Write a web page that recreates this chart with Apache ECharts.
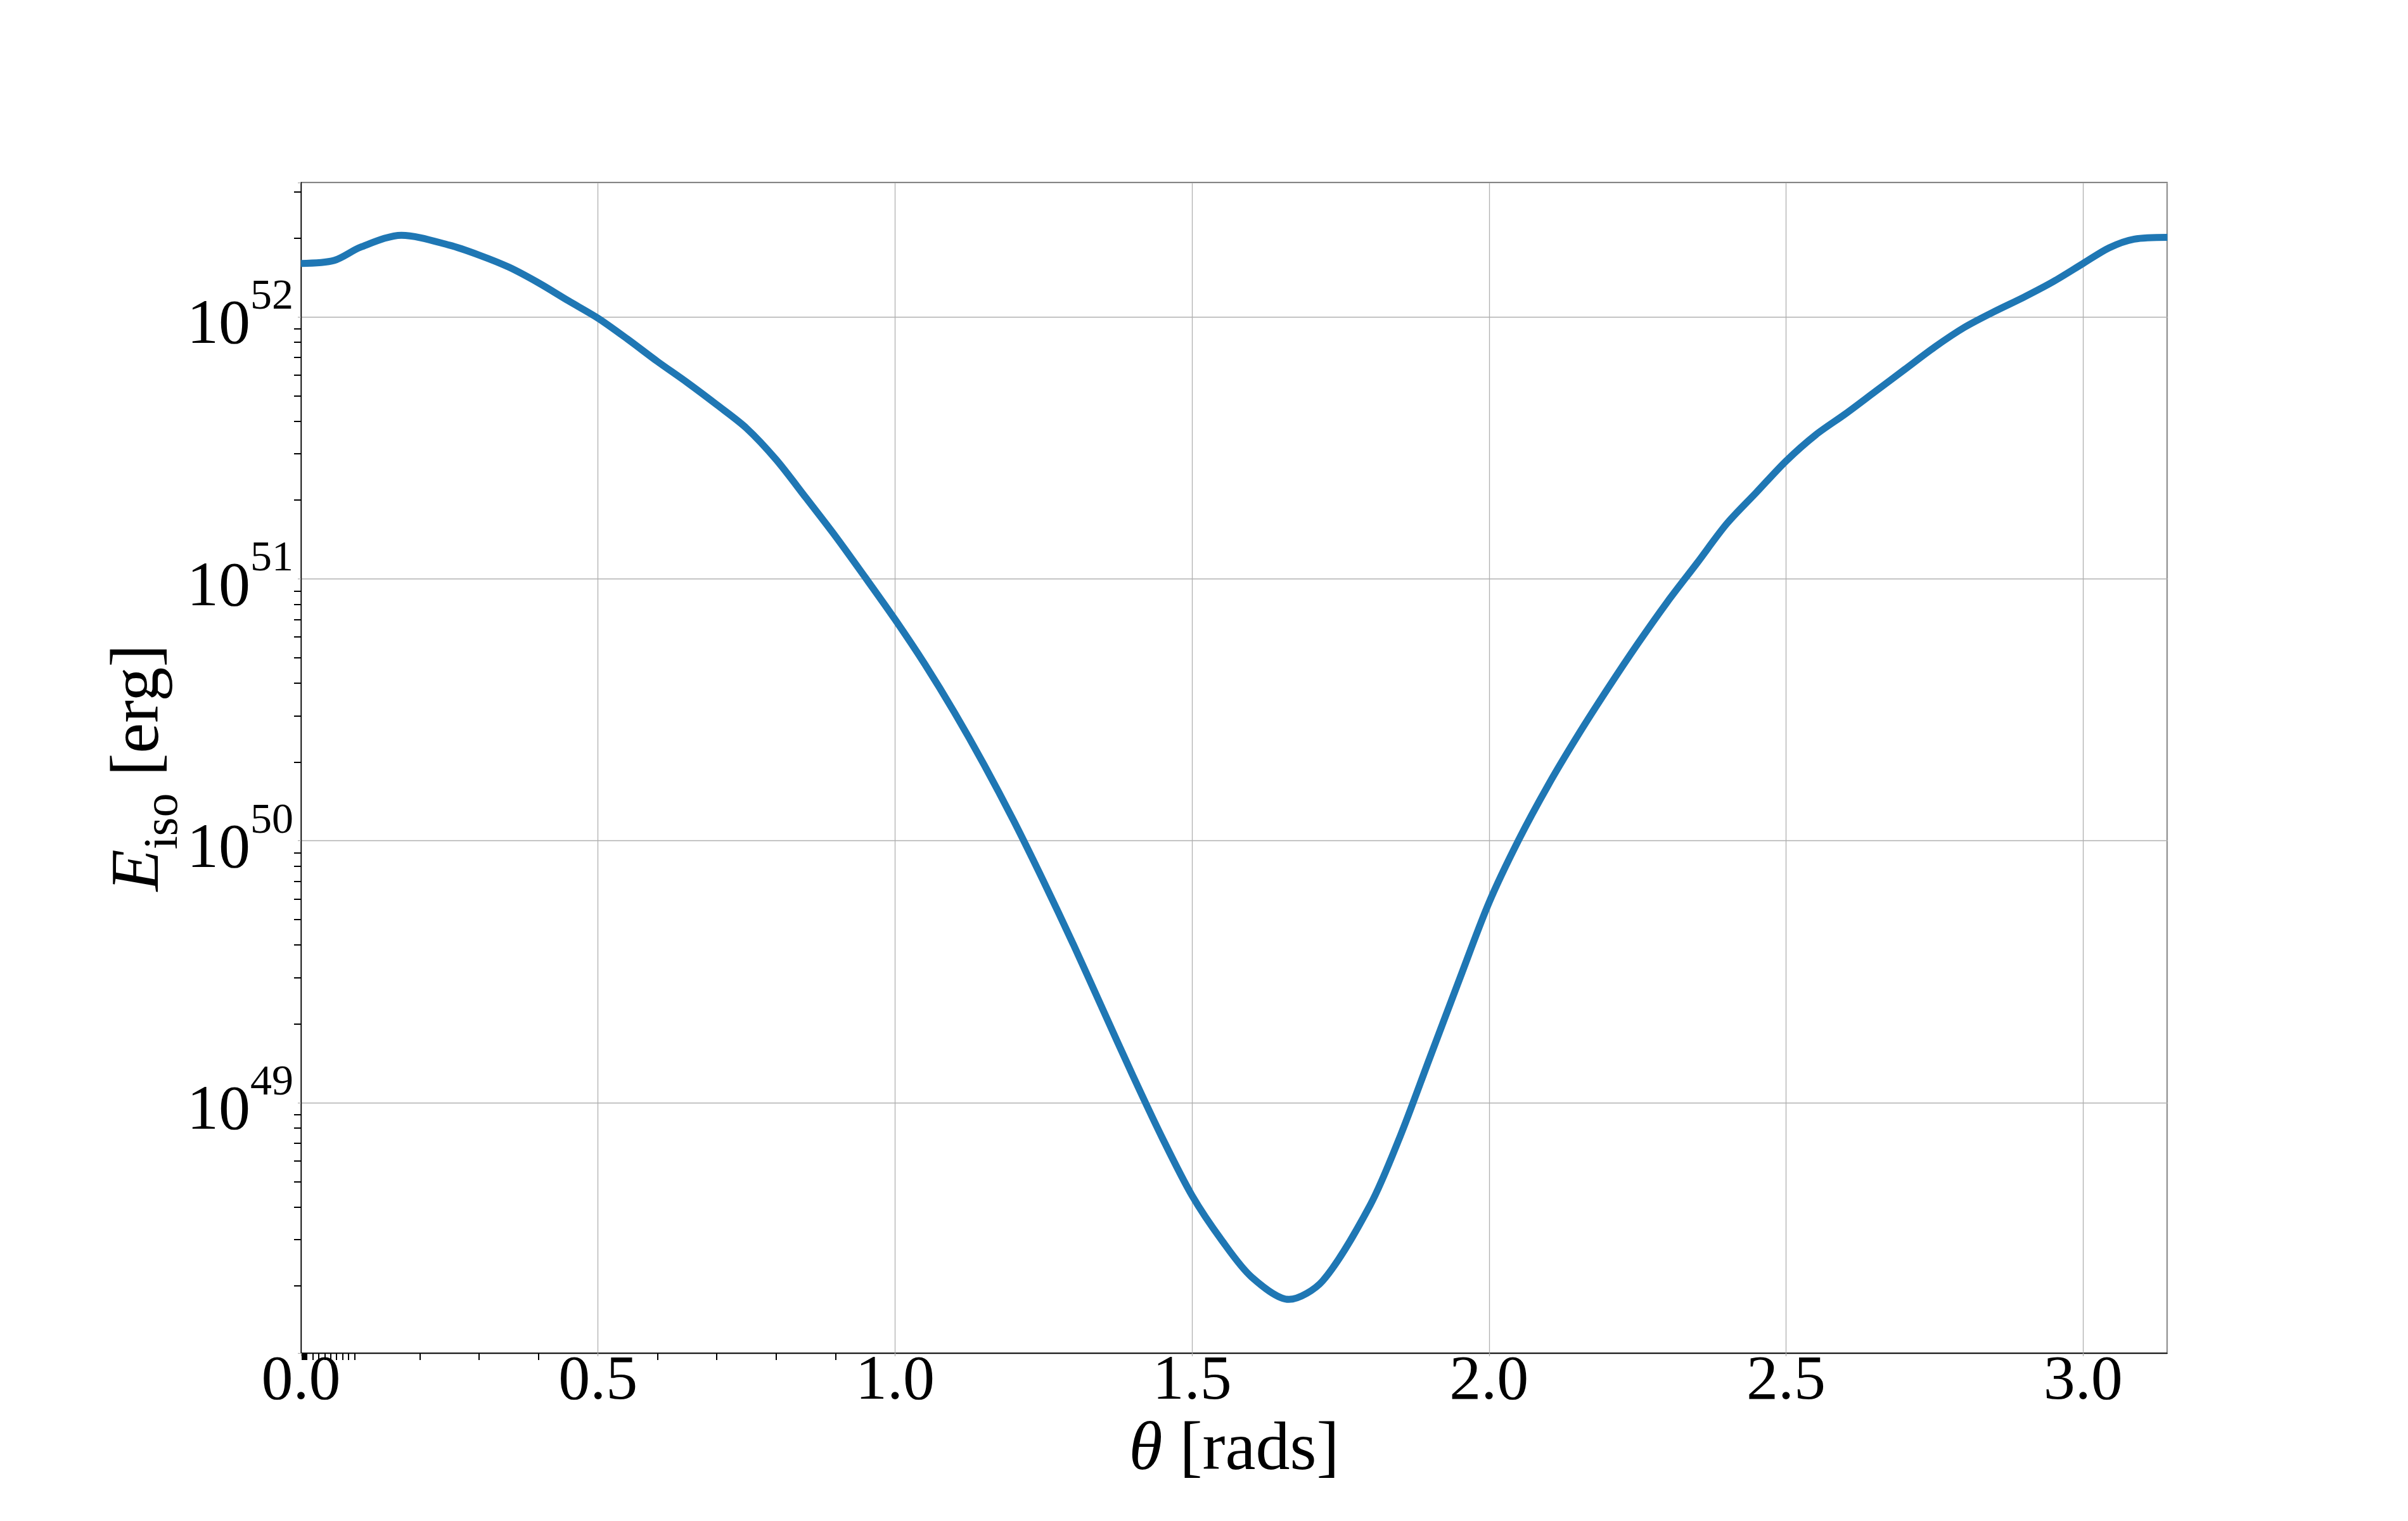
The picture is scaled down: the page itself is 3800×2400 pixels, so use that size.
<!DOCTYPE html>
<html>
<head>
<meta charset="utf-8">
<script src="https://cdn.jsdelivr.net/npm/echarts@6/dist/echarts.min.js"></script>
<style>
  html, body { margin: 0; padding: 0; background: #fff; }
  #chart { width: 3800px; height: 2400px; }
</style>
</head>
<body>
<div id="chart"></div>
<script>
// angle (rads) and isotropic energy (erg)
const theta = [0, 0.056, 0.10, 0.169, 0.25, 0.30, 0.35, 0.40, 0.45,
  0.50, 0.55, 0.60, 0.65, 0.70, 0.75, 0.80, 0.85, 0.90, 0.95,
  1.00, 1.05, 1.10, 1.15, 1.20, 1.25, 1.30, 1.35, 1.40, 1.45,
  1.50, 1.55, 1.60, 1.663, 1.72, 1.80, 1.85, 1.90, 1.95,
  2.00, 2.05, 2.10, 2.15, 2.20, 2.25, 2.30, 2.35, 2.40, 2.45,
  2.50, 2.55, 2.60, 2.65, 2.70, 2.75, 2.80, 2.85, 2.90, 2.95,
  3.00, 3.044, 3.086, 3.142];
const eIso = [1.600e52, 1.644e52, 1.845e52, 2.051e52, 1.879e52, 1.722e52, 1.549e52, 1.349e52, 1.153e52,
  9.89e51, 8.22e51, 6.76e51, 5.62e51, 4.62e51, 3.76e51, 2.85e51, 2.04e51, 1.452e51, 1.012e51,
  7.00e50, 4.73e50, 3.09e50, 1.95e50, 1.189e50, 7.00e49, 4.03e49, 2.265e49, 1.274e49, 7.33e48,
  4.42e48, 2.985e48, 2.163e48, 1.774e48, 2.089e48, 4.07e48, 7.41e48, 1.479e49, 2.951e49,
  5.81e49, 1.009e50, 1.637e50, 2.535e50, 3.815e50, 5.64e50, 8.16e50, 1.148e51, 1.622e51, 2.138e51,
  2.818e51, 3.548e51, 4.266e51, 5.188e51, 6.31e51, 7.67e51, 9.12e51, 1.047e52, 1.189e52, 1.365e52,
  1.600e52, 1.837e52, 1.982e52, 2.014e52];

// axis extents
const xMax = Math.PI;
const yMin = 1.107e48;
const yMax = 3.26e52;

// minor tick positions (matplotlib log-style minors left on the linear x axis)
const xMinorTicks = [0.002, 0.003, 0.004, 0.005, 0.006, 0.007, 0.008, 0.009,
  0.02, 0.03, 0.04, 0.05, 0.06, 0.07, 0.08, 0.09,
  0.2, 0.3, 0.4, 0.6, 0.7, 0.8, 0.9];
const yDecades = [48, 49, 50, 51, 52];
const yMultipliers = [2, 3, 4, 5, 6, 7, 8, 9];

const FONT = 'Liberation Serif';
const GRID_COLOR = '#b0b0b0';

const yMinLog = Math.log10(yMin);
const yMaxLog = Math.log10(yMax);
const yMinorTicks = [];
yDecades.forEach(d => yMultipliers.forEach(m => {
  const v = d + Math.log10(m);
  if (v > yMinLog && v < yMaxLog) yMinorTicks.push(v);
}));

const chart = echarts.init(document.getElementById('chart'));

const option = {
  animation: false,
  backgroundColor: '#fff',
  grid: {
    left: 475, top: 288, right: 380, bottom: 265,
    show: true, borderColor: '#000', borderWidth: 1.3
  },
  xAxis: [
    {
      type: 'value', min: 0, max: xMax, interval: 0.5,
      name: '{i|θ}{r| [rads]}', nameLocation: 'middle', nameGap: 89,
      nameTextStyle: {
        fontFamily: FONT, fontSize: 108, color: '#000',
        rich: {
          i: { fontFamily: FONT, fontSize: 108, fontStyle: 'italic', color: '#000' },
          r: { fontFamily: FONT, fontSize: 108, color: '#000' }
        }
      },
      axisLine: { show: true, lineStyle: { color: '#000', width: 1.3 } },
      axisTick: { show: true, length: 5, lineStyle: { color: GRID_COLOR, width: 1.3 } },
      axisLabel: {
        fontFamily: FONT, fontSize: 100, color: '#000', margin: -4,
        showMaxLabel: false,
        formatter: v => Math.abs(v * 2 - Math.round(v * 2)) < 1e-6 ? v.toFixed(1) : ''
      },
      splitLine: { show: true, lineStyle: { color: GRID_COLOR, width: 1.3 } }
    },
    {
      type: 'value', min: 0, max: xMax, position: 'bottom',
      axisLine: { show: false }, axisLabel: { show: false }, splitLine: { show: false },
      axisTick: { show: true, customValues: xMinorTicks, length: 11, lineStyle: { color: '#000', width: 2 } }
    }
  ],
  yAxis: [
    {
      type: 'log', logBase: 10, min: yMin, max: yMax,
      name: '{e|E}{s|iso}{r| [erg]}', nameLocation: 'middle', nameGap: 178,
      nameMoveOverlap: false,
      nameTextStyle: {
        fontFamily: FONT, fontSize: 108, color: '#000',
        rich: {
          e: { fontFamily: FONT, fontSize: 108, fontStyle: 'italic', lineHeight: 130, verticalAlign: 'top', color: '#000' },
          s: { fontFamily: FONT, fontSize: 76, lineHeight: 82, verticalAlign: 'bottom', color: '#000' },
          r: { fontFamily: FONT, fontSize: 108, lineHeight: 130, verticalAlign: 'top', color: '#000' }
        }
      },
      axisLine: { show: true, lineStyle: { color: '#000', width: 1.3 } },
      axisTick: { show: true, length: 5, lineStyle: { color: GRID_COLOR, width: 1.3 } },
      axisLabel: {
        margin: 12, color: '#000',
        formatter: v => {
          const n = Math.log10(v);
          const r = Math.round(n);
          if (Math.abs(n - r) > 1e-6) return '';
          return '{b|10}{s|' + r + '}';
        },
        rich: {
          b: { fontFamily: FONT, fontSize: 100, lineHeight: 130, verticalAlign: 'bottom', color: '#000' },
          s: { fontFamily: FONT, fontSize: 68, lineHeight: 79, verticalAlign: 'top', color: '#000' }
        }
      },
      splitLine: { show: true, lineStyle: { color: GRID_COLOR, width: 1.3 } }
    },
    {
      type: 'value', min: yMinLog, max: yMaxLog, position: 'left',
      axisLine: { show: false }, axisLabel: { show: false }, splitLine: { show: false },
      axisTick: { show: true, customValues: yMinorTicks, length: 11, lineStyle: { color: '#000', width: 2 } }
    }
  ],
  series: [{
    type: 'line',
    xAxisIndex: 0, yAxisIndex: 0,
    data: theta.map((t, i) => [t, eIso[i]]),
    showSymbol: false,
    smooth: 0.3,
    lineStyle: { color: '#1f77b4', width: 11 },
    z: 3
  }]
};

chart.setOption(option);
</script>
</body>
</html>
